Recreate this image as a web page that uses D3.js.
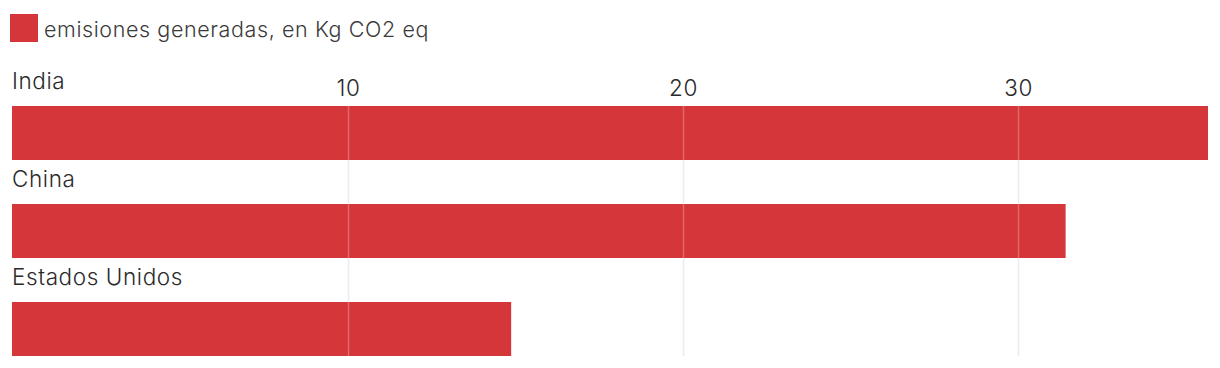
<!DOCTYPE html>
<html>
<head>
<meta charset="utf-8">
<script src="https://cdn.jsdelivr.net/npm/d3@7"></script>
<style>
  html, body { margin: 0; padding: 0; background: #fff; }
  svg { display: block; font-family: Inter, Roboto, "Helvetica Neue", Arial, sans-serif; }
</style>
</head>
<body>
<svg id="chart" width="1220" height="368"></svg>
<script>
const categories = ["India", "China", "Estados Unidos"];
const values = [35.7, 31.45, 14.9];
const tickValues = [10, 20, 30];
const tickLabels = ["10", "20", "30"];
const seriesName = "emisiones generadas, en Kg CO2 eq";

const svg = d3.select("#chart");
const color = "#d4363a";

const x = d3.scaleLinear().domain([0, 35.7]).range([12, 1208]);
const y = d3.scaleBand().domain(categories).range([106, 356]).paddingInner(0.449).paddingOuter(0);

// legend
svg.append("rect").attr("x", 10).attr("y", 14).attr("width", 28).attr("height", 28).attr("fill", color);
svg.append("text").attr("x", 44).attr("y", 37).attr("font-size", 21.5).attr("fill", "#3a3a3a")
  .attr("font-weight", 300).attr("letter-spacing", 0.6)
  .text(seriesName);

const bw = y.bandwidth();

const gridTop = y(categories[0]);
const gridBottom = y(categories[categories.length - 1]) + bw;
svg.append("g").selectAll("line").data(tickValues).join("line")
  .attr("x1", d => x(d) + 1.5).attr("x2", d => x(d) + 1.5)
  .attr("y1", gridTop).attr("y2", gridBottom)
  .attr("stroke", "#e6e6e6").attr("stroke-width", 1.5);

svg.append("g").selectAll("text").data(tickValues).join("text")
  .attr("x", d => x(d) + 1.5).attr("y", 96)
  .attr("text-anchor", "middle").attr("font-size", 22.5).attr("fill", "#2a2a2a")
  .attr("font-weight", 300).attr("letter-spacing", 0.6)
  .text((d, i) => tickLabels[i]);

svg.append("g").selectAll("text").data(categories).join("text")
  .attr("x", 12).attr("y", d => y(d) - 17)
  .attr("font-size", 22.5).attr("fill", "#2a2a2a")
  .attr("font-weight", 300).attr("letter-spacing", 0.6)
  .text(d => d);

svg.append("g").selectAll("rect").data(categories).join("rect")
  .attr("x", x(0)).attr("y", d => y(d))
  .attr("width", (d, i) => x(values[i]) - x(0))
  .attr("height", bw)
  .attr("fill", color);

svg.append("g").selectAll("line").data(tickValues).join("line")
  .attr("x1", d => x(d) + 1.5).attr("x2", d => x(d) + 1.5)
  .attr("y1", gridTop).attr("y2", gridBottom)
  .attr("stroke", "#ffffff").attr("stroke-opacity", 0.25).attr("stroke-width", 1.5);
</script>
</body>
</html>
